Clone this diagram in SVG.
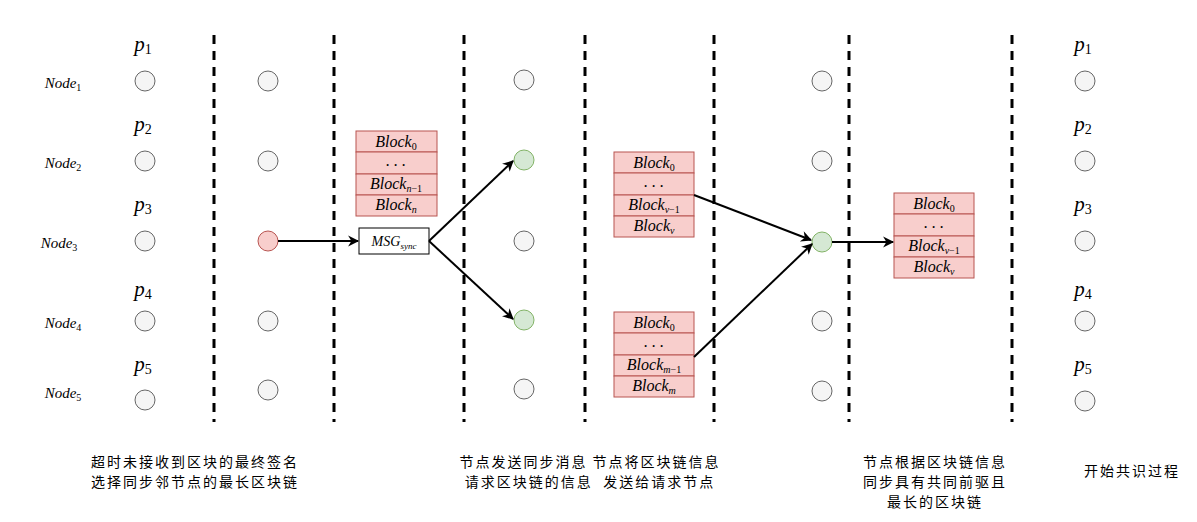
<svg xmlns="http://www.w3.org/2000/svg" width="1197" height="522" viewBox="0 0 1197 522">
<style>
.g{fill:#f5f5f5;stroke:#666666;stroke-width:1}
.r{fill:#f8cecc;stroke:#b85450;stroke-width:1}
.gr{fill:#d5e8d4;stroke:#82b366;stroke-width:1}
.dash{stroke:#000;stroke-width:3;stroke-dasharray:9 7;fill:none}
.m{font-family:"Liberation Serif",serif;font-style:italic;fill:#000}
.nl{font-size:15px;text-anchor:middle}
.pl{font-size:21px;text-anchor:middle}
.bl{font-size:16px;text-anchor:middle}
.sub{font-size:10px;font-style:normal}
.subi{font-size:10px;font-style:italic}
.cn{font-family:"Noto Sans CJK SC","Noto Sans",sans-serif;font-size:14px;letter-spacing:2px;fill:#000;text-anchor:middle}
.conn{stroke:#000;stroke-width:2;fill:none;marker-end:url(#ah)}
</style>
<defs>
<marker id="ah" viewBox="0 0 10 10" refX="9" refY="5" markerWidth="11" markerHeight="11" orient="auto" markerUnits="userSpaceOnUse" overflow="visible">
<path d="M0,0 L10,5 L0,10 L3,5 z" fill="#000"/>
</marker>
</defs>
<rect width="1197" height="522" fill="#fff"/>
<g id="dividers">
<line class="dash" x1="214" y1="35" x2="214" y2="422"/>
<line class="dash" x1="334" y1="35" x2="334" y2="422"/>
<line class="dash" x1="464" y1="35" x2="464" y2="422"/>
<line class="dash" x1="585" y1="35" x2="585" y2="422"/>
<line class="dash" x1="714" y1="35" x2="714" y2="422"/>
<line class="dash" x1="849" y1="35" x2="849" y2="422"/>
<line class="dash" x1="1012" y1="35" x2="1012" y2="422"/>
</g>
<g id="node-labels">
<text class="m nl" x="63" y="88">Node<tspan class="sub" dy="3">1</tspan></text>
<text class="m nl" x="63" y="168">Node<tspan class="sub" dy="3">2</tspan></text>
<text class="m nl" x="59" y="248">Node<tspan class="sub" dy="3">3</tspan></text>
<text class="m nl" x="63" y="328">Node<tspan class="sub" dy="3">4</tspan></text>
<text class="m nl" x="63" y="398">Node<tspan class="sub" dy="3">5</tspan></text>
</g>
<g id="p-left">
<text class="m pl" x="143" y="51">p<tspan class="sub" style="font-size:14px" dy="3">1</tspan></text>
<text class="m pl" x="143" y="131">p<tspan class="sub" style="font-size:14px" dy="3">2</tspan></text>
<text class="m pl" x="143" y="211">p<tspan class="sub" style="font-size:14px" dy="3">3</tspan></text>
<text class="m pl" x="143" y="296">p<tspan class="sub" style="font-size:14px" dy="3">4</tspan></text>
<text class="m pl" x="143" y="371">p<tspan class="sub" style="font-size:14px" dy="3">5</tspan></text>
</g>
<g id="p-right">
<text class="m pl" x="1083" y="51">p<tspan class="sub" style="font-size:14px" dy="3">1</tspan></text>
<text class="m pl" x="1083" y="131">p<tspan class="sub" style="font-size:14px" dy="3">2</tspan></text>
<text class="m pl" x="1083" y="211">p<tspan class="sub" style="font-size:14px" dy="3">3</tspan></text>
<text class="m pl" x="1083" y="296">p<tspan class="sub" style="font-size:14px" dy="3">4</tspan></text>
<text class="m pl" x="1083" y="371">p<tspan class="sub" style="font-size:14px" dy="3">5</tspan></text>
</g>
<g id="col1">
<circle class="g" cx="145" cy="81" r="10"/>
<circle class="g" cx="145" cy="161" r="10"/>
<circle class="g" cx="145" cy="241" r="10"/>
<circle class="g" cx="145" cy="321" r="10"/>
<circle class="g" cx="145" cy="400" r="10"/>
</g>
<g id="col2">
<circle class="g" cx="268" cy="81" r="10"/>
<circle class="g" cx="268" cy="161" r="10"/>
<circle class="r" cx="268" cy="241" r="10"/>
<circle class="g" cx="268" cy="321" r="10"/>
<circle class="g" cx="268" cy="390" r="10"/>
</g>
<g id="col3">
<circle class="g" cx="524" cy="80" r="10"/>
<circle class="gr" cx="524" cy="160" r="10"/>
<circle class="g" cx="524" cy="241" r="10"/>
<circle class="gr" cx="524" cy="320" r="10"/>
<circle class="g" cx="524" cy="389" r="10"/>
</g>
<g id="col4">
<circle class="g" cx="822" cy="81" r="10"/>
<circle class="g" cx="822" cy="161" r="10"/>
<circle class="gr" cx="822" cy="242" r="10"/>
<circle class="g" cx="822" cy="321" r="10"/>
<circle class="g" cx="822" cy="391" r="10"/>
</g>
<g id="col5">
<circle class="g" cx="1085" cy="81" r="10"/>
<circle class="g" cx="1085" cy="161" r="10"/>
<circle class="g" cx="1085" cy="241" r="10"/>
<circle class="g" cx="1085" cy="321" r="10"/>
<circle class="g" cx="1085" cy="401" r="10"/>
</g>
<g id="stack-n">
<rect class="r" x="356" y="131" width="81" height="21"/>
<rect class="r" x="356" y="152" width="81" height="22"/>
<rect class="r" x="356" y="174" width="81" height="21"/>
<rect class="r" x="356" y="195" width="81" height="21"/>
<text class="m bl" x="396" y="147">Block<tspan class="sub" dy="3">0</tspan></text>
<text class="m bl" x="396" y="166">. . .</text>
<text class="m bl" x="396" y="189">Block<tspan class="subi" dy="3">n</tspan><tspan class="sub">−1</tspan></text>
<text class="m bl" x="396" y="210">Block<tspan class="subi" dy="3">n</tspan></text>
</g>
<g id="msg">
<rect x="359" y="228" width="70" height="26" fill="#fff" stroke="#000" stroke-width="1"/>
<text class="m" x="394" y="246" style="font-size:14px;text-anchor:middle">MSG<tspan class="subi" style="font-size:9px" dy="3">sync</tspan></text>
</g>
<g id="stack-v">
<rect class="r" x="614" y="152" width="80" height="21"/>
<rect class="r" x="614" y="173" width="80" height="22"/>
<rect class="r" x="614" y="195" width="80" height="21"/>
<rect class="r" x="614" y="216" width="80" height="21"/>
<text class="m bl" x="654" y="168">Block<tspan class="sub" dy="3">0</tspan></text>
<text class="m bl" x="654" y="187">. . .</text>
<text class="m bl" x="654" y="210">Block<tspan class="subi" dy="3">v</tspan><tspan class="sub">−1</tspan></text>
<text class="m bl" x="654" y="231">Block<tspan class="subi" dy="3">v</tspan></text>
</g>
<g id="stack-m">
<rect class="r" x="614" y="312" width="80" height="21"/>
<rect class="r" x="614" y="333" width="80" height="22"/>
<rect class="r" x="614" y="355" width="80" height="21"/>
<rect class="r" x="614" y="376" width="80" height="21"/>
<text class="m bl" x="654" y="328">Block<tspan class="sub" dy="3">0</tspan></text>
<text class="m bl" x="654" y="347">. . .</text>
<text class="m bl" x="654" y="370">Block<tspan class="subi" dy="3">m</tspan><tspan class="sub">−1</tspan></text>
<text class="m bl" x="654" y="391">Block<tspan class="subi" dy="3">m</tspan></text>
</g>
<g id="stack-v2">
<rect class="r" x="894" y="193" width="80" height="21"/>
<rect class="r" x="894" y="214" width="80" height="22"/>
<rect class="r" x="894" y="236" width="80" height="21"/>
<rect class="r" x="894" y="257" width="80" height="21"/>
<text class="m bl" x="934" y="209">Block<tspan class="sub" dy="3">0</tspan></text>
<text class="m bl" x="934" y="228">. . .</text>
<text class="m bl" x="934" y="251">Block<tspan class="subi" dy="3">v</tspan><tspan class="sub">−1</tspan></text>
<text class="m bl" x="934" y="272">Block<tspan class="subi" dy="3">v</tspan></text>
</g>
<g id="connectors">
<line class="conn" x1="278" y1="241" x2="358" y2="241"/>
<line class="conn" x1="429" y1="241" x2="513" y2="161"/>
<line class="conn" x1="429" y1="241" x2="513" y2="319"/>
<line class="conn" x1="694" y1="195" x2="811" y2="240"/>
<line class="conn" x1="694" y1="357" x2="812" y2="244"/>
<line class="conn" x1="832" y1="242" x2="893" y2="242"/>
</g>
<g id="captions">
<text class="cn" x="195" y="467">超时未接收到区块的最终签名</text>
<text class="cn" x="195" y="487">选择同步邻节点的最长区块链</text>
<text class="cn" x="590" y="467">节点发送同步消息 节点将区块链信息</text>
<text class="cn" x="590" y="487" xml:space="preserve">请求区块链的信息  发送给请求节点</text>
<text class="cn" x="935" y="467">节点根据区块链信息</text>
<text class="cn" x="935" y="487">同步具有共同前驱且</text>
<text class="cn" x="935" y="507">最长的区块链</text>
<text class="cn" x="1132" y="476">开始共识过程</text>
</g>
</svg>
